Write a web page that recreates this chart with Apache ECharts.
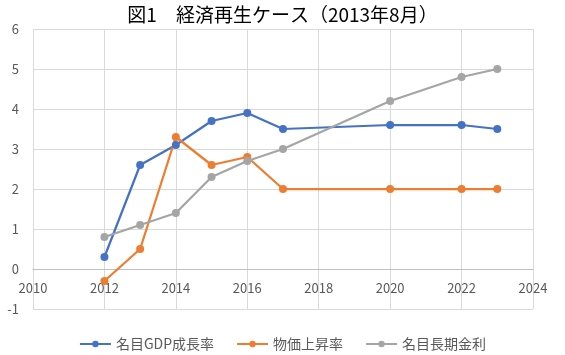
<!DOCTYPE html>
<html><head><meta charset="utf-8">
<script src="https://cdn.jsdelivr.net/npm/echarts@6/dist/echarts.min.js"></script>
<style>html,body{margin:0;padding:0;background:#fff}#c{width:565px;height:355px}</style>
</head><body><div id="c"></div>
<script>
const years = [2012, 2013, 2014, 2015, 2016, 2017, 2020, 2022, 2023];
const gdpNominal = [0.3, 2.6, 3.1, 3.7, 3.9, 3.5, 3.6, 3.6, 3.5];
const priceRise = [-0.3, 0.5, 3.3, 2.6, 2.8, 2.0, 2.0, 2.0, 2.0];
const longRate = [0.8, 1.1, 1.4, 2.3, 2.7, 3.0, 4.2, 4.8, 5.0];
const seriesNames = ['名目GDP成長率', '物価上昇率', '名目長期金利'];
const titleText = '図1　経済再生ケース（2013年8月）';

const font = '"Noto Sans CJK JP", "Noto Sans", sans-serif';
const colors = ['#4472C4', '#ED7D31', '#A5A5A5'];
const pair = arr => years.map((y, i) => [y, arr[i]]);
const chart = echarts.init(document.getElementById('c'));
chart.setOption({
  animation: false,
  color: colors,
  title: { text: titleText, left: 'center', top: 0,
    textStyle: { fontFamily: font, fontSize: 19, fontWeight: 'normal', color: '#000' } },
  grid: { left: 33, right: 32, top: 29, bottom: 46 },
  legend: { top: 332, left: 'center', itemWidth: 31, itemHeight: 8, itemGap: 22,
    textStyle: { fontFamily: font, fontSize: 14, color: '#595959' },
    data: seriesNames },
  xAxis: { type: 'value', min: 2010, max: 2024, interval: 2,
    offset: -40,
    axisLine: { onZero: false, lineStyle: { color: '#bfbfbf' } },
    axisTick: { show: false },
    axisLabel: { color: '#595959', fontFamily: font, fontSize: 13, margin: 13,
      formatter: v => String(v) },
    splitLine: { show: true, lineStyle: { color: '#d9d9d9' } } },
  yAxis: { type: 'value', min: -1, max: 6, interval: 1,
    axisLine: { show: false }, axisTick: { show: false },
    axisLabel: { color: '#595959', fontFamily: font, fontSize: 13, margin: 14 },
    splitLine: { lineStyle: { color: '#d9d9d9' } } },
  series: [gdpNominal, priceRise, longRate].map((d, i) => ({
    name: seriesNames[i], type: 'line', data: pair(d),
    symbol: 'circle', symbolSize: 8,
    lineStyle: { width: 2.25, color: colors[i] },
    itemStyle: { color: colors[i] }
  }))
});
</script></body></html>
